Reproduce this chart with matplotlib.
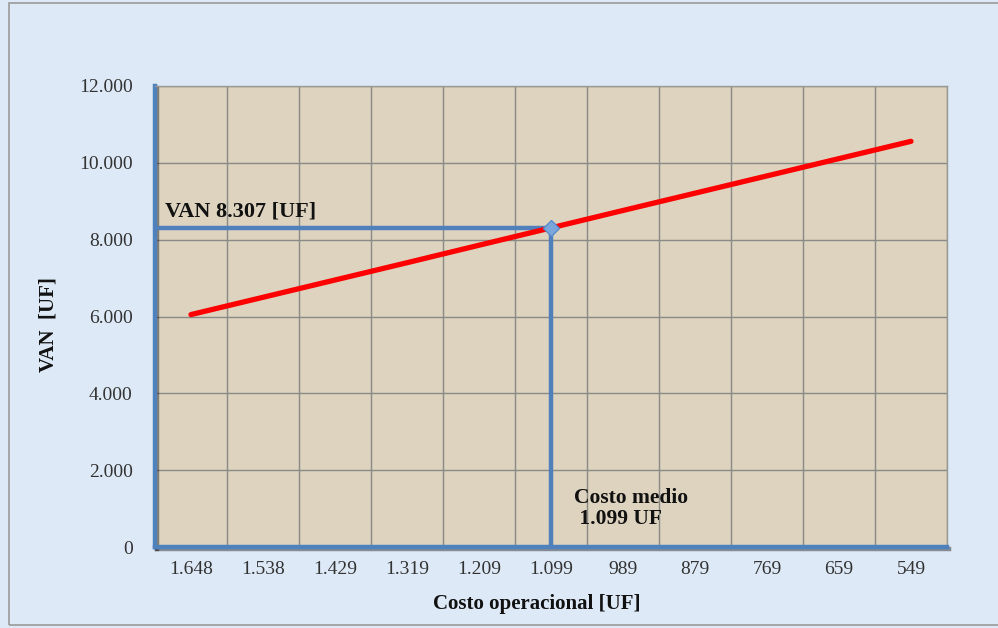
import matplotlib
matplotlib.use("Agg")
from matplotlib import pyplot as plt
from matplotlib import patheffects as pe
from matplotlib.patches import Rectangle
import numpy as np

# operating cost scenarios (UF) and resulting NPV (UF)
costos = ['1.648', '1.538', '1.429', '1.319', '1.209', '1.099',
          '989', '879', '769', '659', '549']
van = [6050, 6500, 6950, 7400, 7855, 8307, 8760, 9210, 9660, 10110, 10560]
costo_medio = '1.099'
van_medio = 8307
y_ticks = [0, 2000, 4000, 6000, 8000, 10000, 12000]

plt.rcParams['font.family'] = ['Liberation Serif', 'DejaVu Serif']

fig = plt.figure(figsize=(9.98, 6.28), dpi=100)
fig.patch.set_facecolor('#dde9f6')
fig.patches.append(Rectangle((0.009, 0.005), 0.995, 0.99, transform=fig.transFigure,
                             fill=False, edgecolor='#9a9a9a', linewidth=1.2))

ax = fig.add_axes([155 / 998, 1 - 547 / 628, 792 / 998, 461 / 628])
ax.set_facecolor('#ddd3bf')

x = np.arange(len(costos))
i_medio = costos.index(costo_medio)

# grid: category boundaries and every 2.000 on the value axis
ax.set_xlim(-0.5, len(costos) - 0.5)
ax.set_ylim(0, 12000)
ax.set_xticks(x)
ax.set_xticklabels(costos)
ax.set_xticks(np.arange(len(costos) + 1) - 0.5, minor=True)
ax.set_yticks(y_ticks)
ax.set_yticklabels(['0' if v == 0 else '{:,}'.format(v).replace(',', '.') for v in y_ticks])
ax.grid(True, which='minor', axis='x', color='#8a8a86', linewidth=1.0)
ax.grid(True, which='major', axis='y', color='#8a8a86', linewidth=1.0)
ax.tick_params(axis='both', which='both', length=0, labelsize=14, colors='#333333')
ax.tick_params(axis='x', pad=10)
ax.tick_params(axis='y', pad=16)

for s in ['top', 'right']:
    ax.spines[s].set_color('#9a9a94')
    ax.spines[s].set_linewidth(1.0)
for s in ['left', 'bottom']:
    ax.spines[s].set_color('#4f81bd')
    ax.spines[s].set_linewidth(3.2)
    ax.spines[s].set_path_effects([pe.SimpleLineShadow(offset=(1.5, -1.5), alpha=0.4),
                                   pe.Normal()])

# reference lines to the average cost point
blue = '#5080bb'
ax.plot([-0.5, i_medio], [van_medio, van_medio], color=blue, linewidth=3.2,
        solid_capstyle='butt', zorder=3)
ax.plot([i_medio, i_medio], [0, van_medio], color=blue, linewidth=3.2,
        solid_capstyle='butt', zorder=3)

ax.plot(x, van, color='#ff0000', linewidth=3.8, solid_capstyle='round', zorder=4)
ax.plot([i_medio], [van_medio], marker='D', markersize=8, color='#7aa6dc',
        markeredgecolor='#5b8ccc', zorder=5)

ax.text(-0.36, 8740, 'VAN 8.307 [UF]', fontsize=16, fontweight='bold',
        va='center', ha='left', color='#111111')
ax.text(5.32, 1000, 'Costo medio\n 1.099 UF', fontsize=15.5, fontweight='bold',
        va='center', ha='left', color='#111111', linespacing=1.1)

fig.text(537 / 998, 1 - 604 / 628, 'Costo operacional [UF]', fontsize=15,
         fontweight='bold', ha='center', va='center', color='#111111')
fig.text(48 / 998, 1 - 325 / 628, 'VAN  [UF]', fontsize=15, fontweight='bold',
         ha='center', va='center', rotation=90, color='#111111')

fig.savefig('out.png', dpi=100, facecolor=fig.get_facecolor())
